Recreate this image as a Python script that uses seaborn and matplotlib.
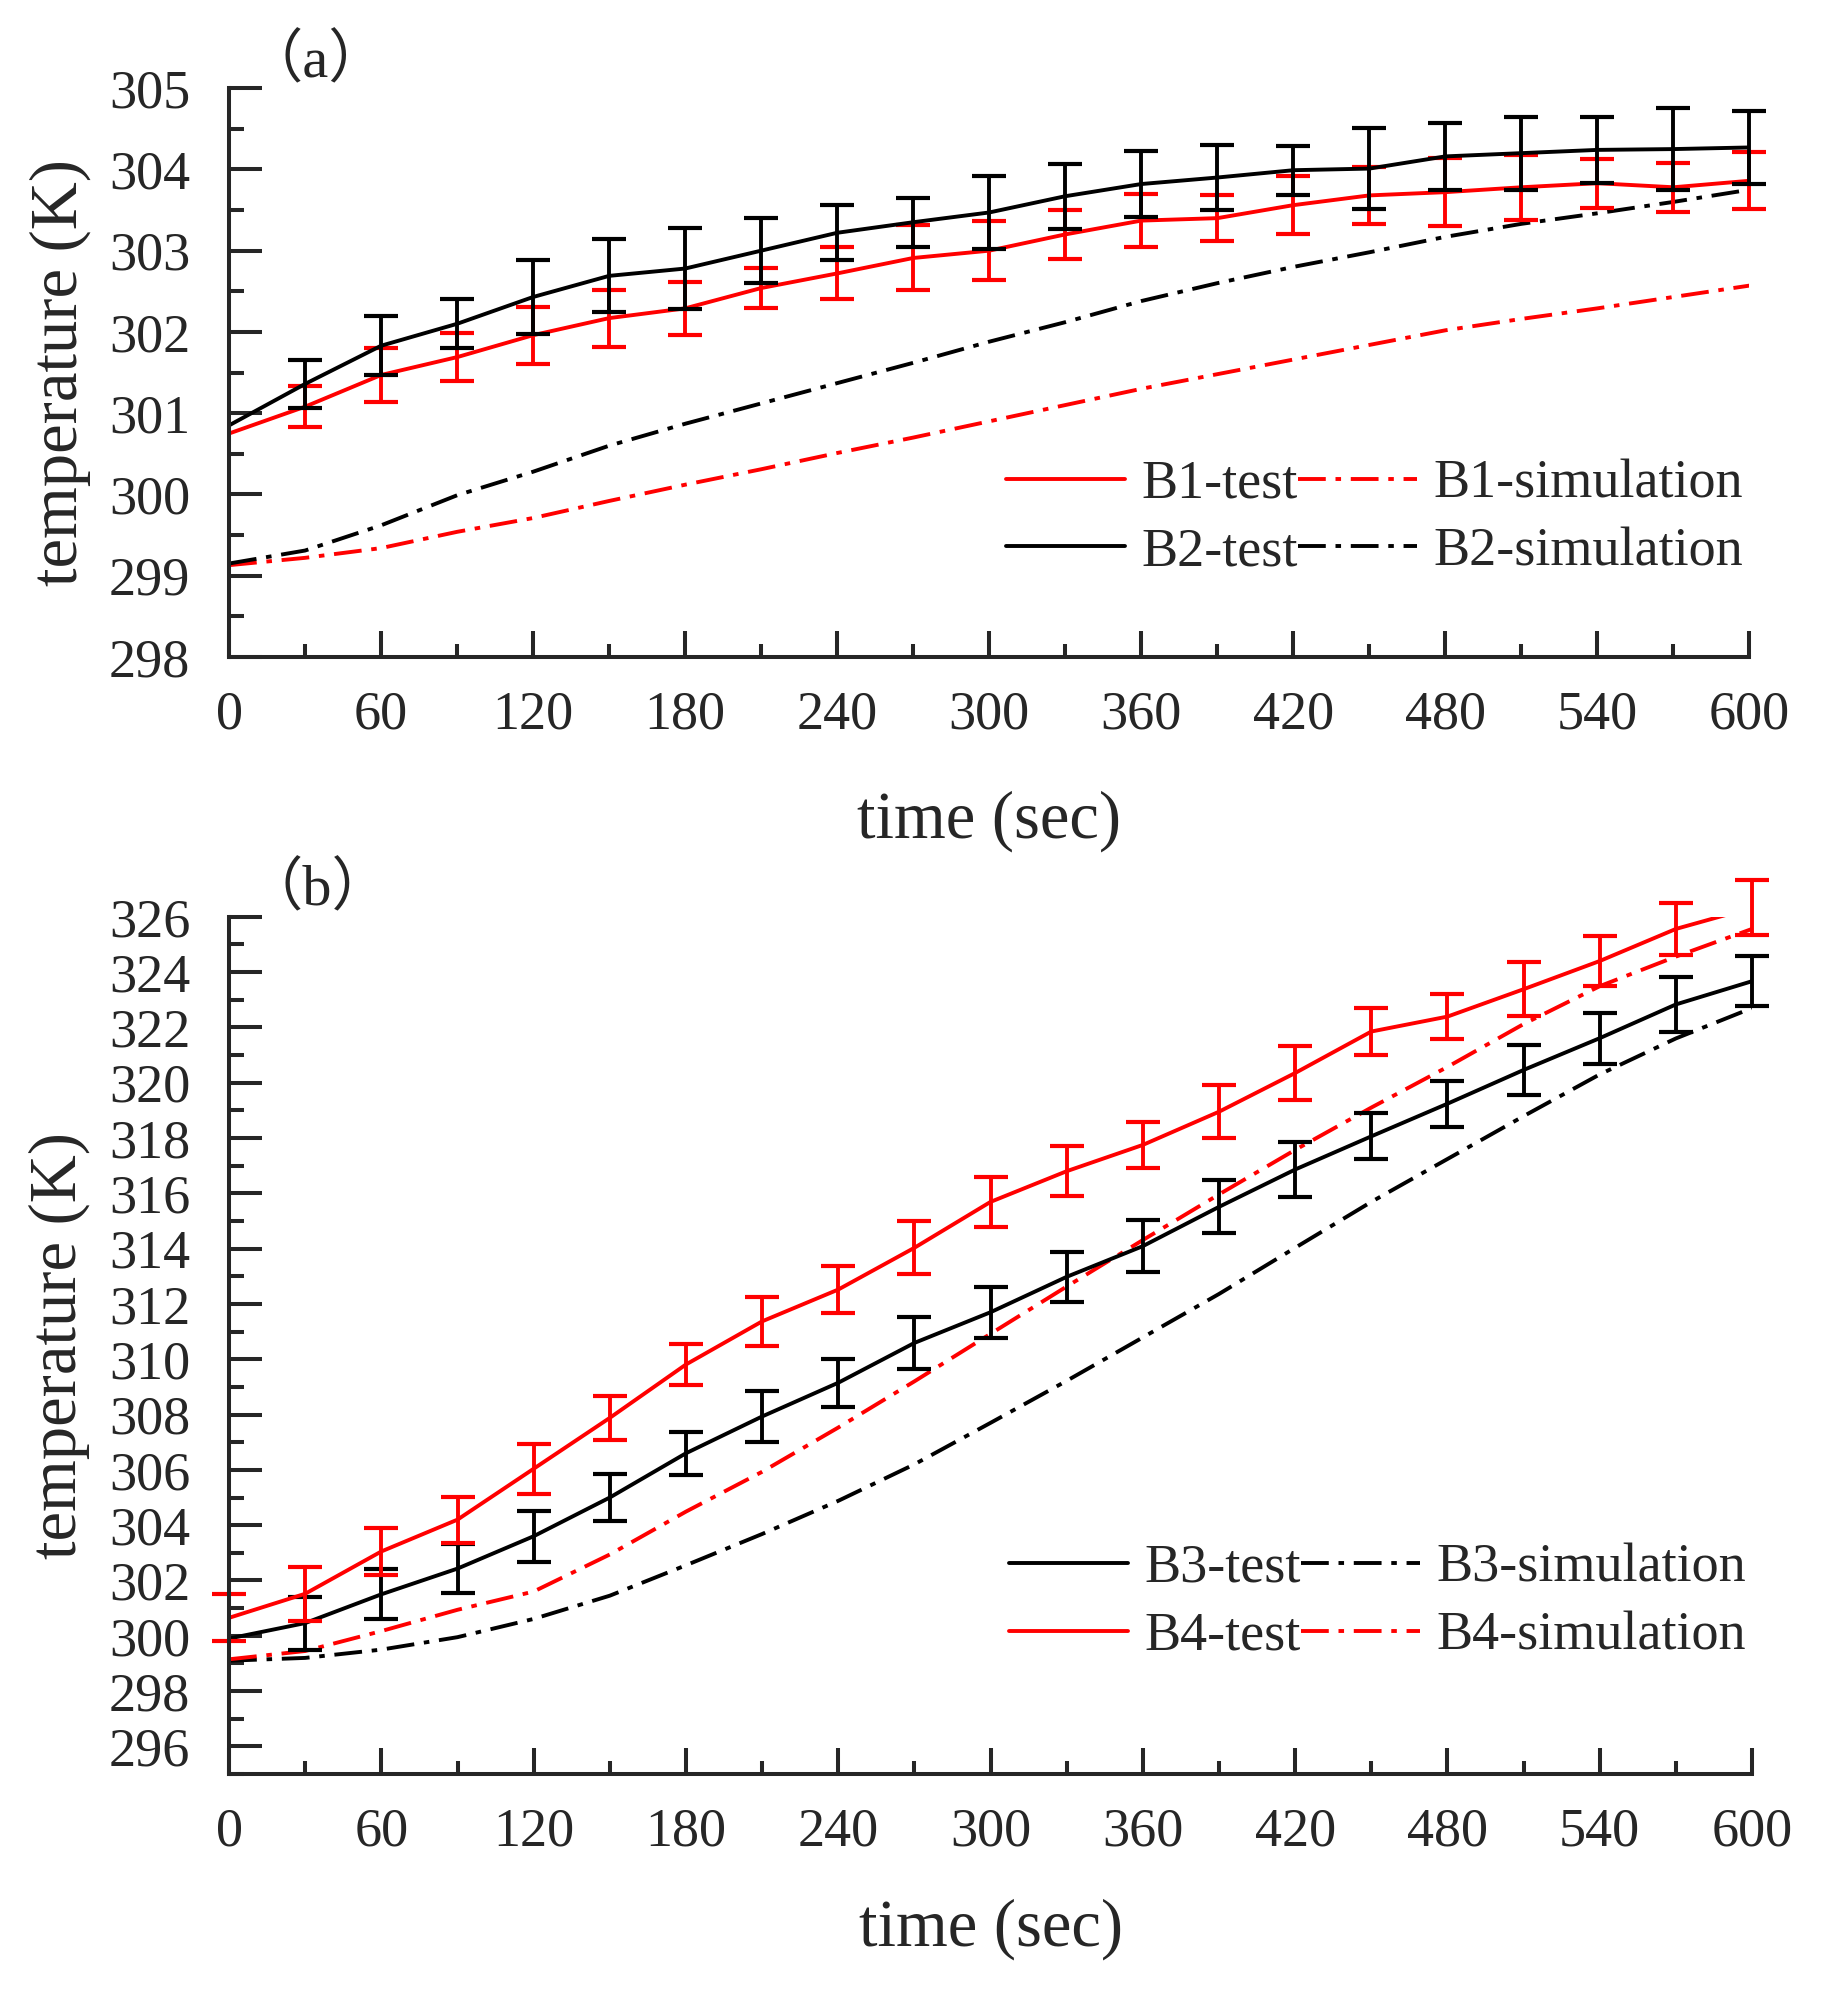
import numpy as np
import pandas as pd
import matplotlib
matplotlib.use('Agg')
import matplotlib.pyplot as plt
from matplotlib.ticker import MultipleLocator
from matplotlib.lines import Line2D
import seaborn as sns

# time axis (s), shared by both panels
time_s = [0, 30, 60, 90, 120, 150, 180, 210, 240, 270, 300,
          330, 360, 390, 420, 450, 480, 510, 540, 570, 600]
nan = np.nan

## PANEL (a) DATA ##
b1_test = [300.75, 301.08, 301.47, 301.69, 301.96, 302.17, 302.29, 302.54, 302.72, 302.91, 303.0,
           303.2, 303.37, 303.4, 303.56, 303.68, 303.72, 303.78, 303.83, 303.78, 303.86]
b1_err = [nan, 0.25, 0.33, 0.3, 0.35, 0.35, 0.33, 0.25, 0.32, 0.4, 0.36,
          0.3, 0.33, 0.28, 0.36, 0.35, 0.42, 0.4, 0.3, 0.3, 0.35]
b2_test = [300.85, 301.36, 301.83, 302.1, 302.43, 302.69, 302.78, 303.0, 303.22, 303.35, 303.47,
           303.67, 303.82, 303.9, 303.99, 304.01, 304.16, 304.2, 304.24, 304.25, 304.27]
b2_err = [nan, 0.3, 0.36, 0.3, 0.45, 0.45, 0.5, 0.4, 0.34, 0.3, 0.45,
          0.4, 0.41, 0.4, 0.3, 0.5, 0.41, 0.45, 0.41, 0.5, 0.45]
b1_sim = [299.13, 299.22, 299.34, 299.54, 299.71, 299.92, 300.12, 300.31, 300.51, 300.7, 300.9,
          301.1, 301.3, 301.48, 301.66, 301.84, 302.02, 302.16, 302.29, 302.43, 302.57]
b2_sim = [299.15, 299.31, 299.62, 299.99, 300.28, 300.6, 300.87, 301.12, 301.37, 301.62, 301.88,
          302.12, 302.38, 302.6, 302.8, 302.98, 303.17, 303.33, 303.46, 303.6, 303.75]

## PANEL (b) DATA ##
b3_test = [299.9, 300.46, 301.5, 302.43, 303.6, 305.0, 306.6, 307.93, 309.15, 310.59, 311.7,
           312.98, 314.09, 315.51, 316.86, 318.06, 319.24, 320.46, 321.61, 322.83, 323.67]
b3_err = [nan, 0.96, 0.9, 0.88, 0.92, 0.85, 0.78, 0.92, 0.86, 0.93, 0.92,
          0.9, 0.94, 0.96, 0.98, 0.83, 0.83, 0.9, 0.92, 1.0, 0.91]
b4_test = [300.65, 301.52, 303.05, 304.2, 306.04, 307.88, 309.81, 311.37, 312.52, 314.03, 315.69,
           316.8, 317.75, 318.95, 320.35, 321.85, 322.39, 323.38, 324.4, 325.56, 326.33]
b4_err = [0.85, 0.97, 0.85, 0.83, 0.9, 0.8, 0.74, 0.88, 0.85, 0.96, 0.9,
          0.9, 0.83, 0.95, 0.97, 0.85, 0.8, 0.97, 0.92, 0.95, 1.0]
b3_sim = [299.1, 299.2, 299.5, 299.95, 300.61, 301.45, 302.55, 303.68, 304.88, 306.2, 307.7,
          309.22, 310.79, 312.36, 314.03, 315.69, 317.24, 318.79, 320.3, 321.6, 322.7]
b4_sim = [299.15, 299.45, 300.17, 300.94, 301.6, 302.94, 304.49, 305.93, 307.53, 309.2, 310.92,
          312.63, 314.31, 315.96, 317.57, 319.1, 320.57, 322.12, 323.49, 324.56, 325.56]

df_a = pd.DataFrame({'time': time_s, 'B1_test': b1_test, 'B1_err': b1_err,
                     'B2_test': b2_test, 'B2_err': b2_err,
                     'B1_sim': b1_sim, 'B2_sim': b2_sim})
df_b = pd.DataFrame({'time': time_s, 'B3_test': b3_test, 'B3_err': b3_err,
                     'B4_test': b4_test, 'B4_err': b4_err,
                     'B3_sim': b3_sim, 'B4_sim': b4_sim})

sns.set_style('ticks')
plt.rcParams['font.family'] = ['Liberation Serif', 'Noto Sans CJK SC']
plt.rcParams['lines.scale_dashes'] = False
plt.rcParams['axes.linewidth'] = 2.9

RED = '#ff0000'
BLACK = '#000000'
dashdot = (0, (20, 7, 4, 7))


def draw_panel(ax, df, names, colors, ylim, ymajor, yminor, panel_tag, tag_y, leg_xy):
    # simulation curves first, test curves with error bars on top
    for name, col in zip(names, colors):
        sns.lineplot(data=df, x='time', y=name + '_sim', color=col, lw=2.8,
                     linestyle=dashdot, ax=ax, legend=False)
    for name, col in zip(names, colors):
        sns.lineplot(data=df, x='time', y=name + '_test', color=col, lw=2.8,
                     ax=ax, legend=False)
        ax.errorbar(df['time'], df[name + '_test'], yerr=df[name + '_err'], fmt='none',
                    ecolor=col, elinewidth=2.8, capsize=12.5, capthick=3.0, clip_on=False)

    ax.set_xlim(0, 600)
    ax.set_ylim(*ylim)
    ax.xaxis.set_major_locator(MultipleLocator(60))
    ax.xaxis.set_minor_locator(MultipleLocator(30))
    ax.yaxis.set_major_locator(MultipleLocator(ymajor))
    ax.yaxis.set_minor_locator(MultipleLocator(yminor))
    ax.tick_params(axis='y', which='major', direction='in', length=24, width=2.9,
                   labelsize=39, pad=28)
    ax.tick_params(axis='y', which='minor', direction='in', length=11, width=2.9)
    ax.tick_params(axis='x', which='major', direction='in', length=19, width=2.9,
                   labelsize=39, pad=24)
    ax.tick_params(axis='x', which='minor', direction='in', length=9.5, width=2.9)
    sns.despine(ax=ax)

    ax.set_xlabel('time (sec)', fontsize=48)
    ax.set_ylabel('temperature (K)', fontsize=48)
    ax.yaxis.set_label_coords(-0.091, 0.5)

    ax.text(0.01, tag_y, panel_tag, transform=ax.transAxes, fontsize=42,
            ha='left', va='center')

    # legend: two columns, test | simulation
    handles = []
    labels = []
    for name, col in zip(names, colors):
        handles.append(Line2D([], [], color=col, lw=2.8))
        labels.append(name + '-test')
    for name, col in zip(names, colors):
        handles.append(Line2D([], [], color=col, lw=2.8, linestyle=dashdot))
        labels.append(name + '-simulation')
    ax.legend(handles, labels, ncol=2, loc='center left', bbox_to_anchor=leg_xy,
              frameon=False, fontsize=39, handlelength=2.2, handletextpad=0.3,
              columnspacing=0.0, borderpad=0, borderaxespad=0, labelspacing=0.32)


fig = plt.figure(figsize=(18.34, 20.03), dpi=100)
ax_a = fig.add_axes([0.1249, 0.672, 0.829, 0.284])
ax_b = fig.add_axes([0.1249, 0.1143, 0.8304, 0.428])

draw_panel(ax_a, df_a, ['B1', 'B2'], [RED, BLACK], (298, 305), 1, 0.5,
           '（a）', 1.047, (0.511, 0.244))
ax_a.xaxis.set_label_coords(0.5, -0.234)

draw_panel(ax_b, df_b, ['B3', 'B4'], [BLACK, RED], (295, 326), 2, 1,
           '（b）', 1.032, (0.512, 0.2))
ax_b.xaxis.set_label_coords(0.5, -0.1445)

fig.savefig('out.png', dpi=100)
